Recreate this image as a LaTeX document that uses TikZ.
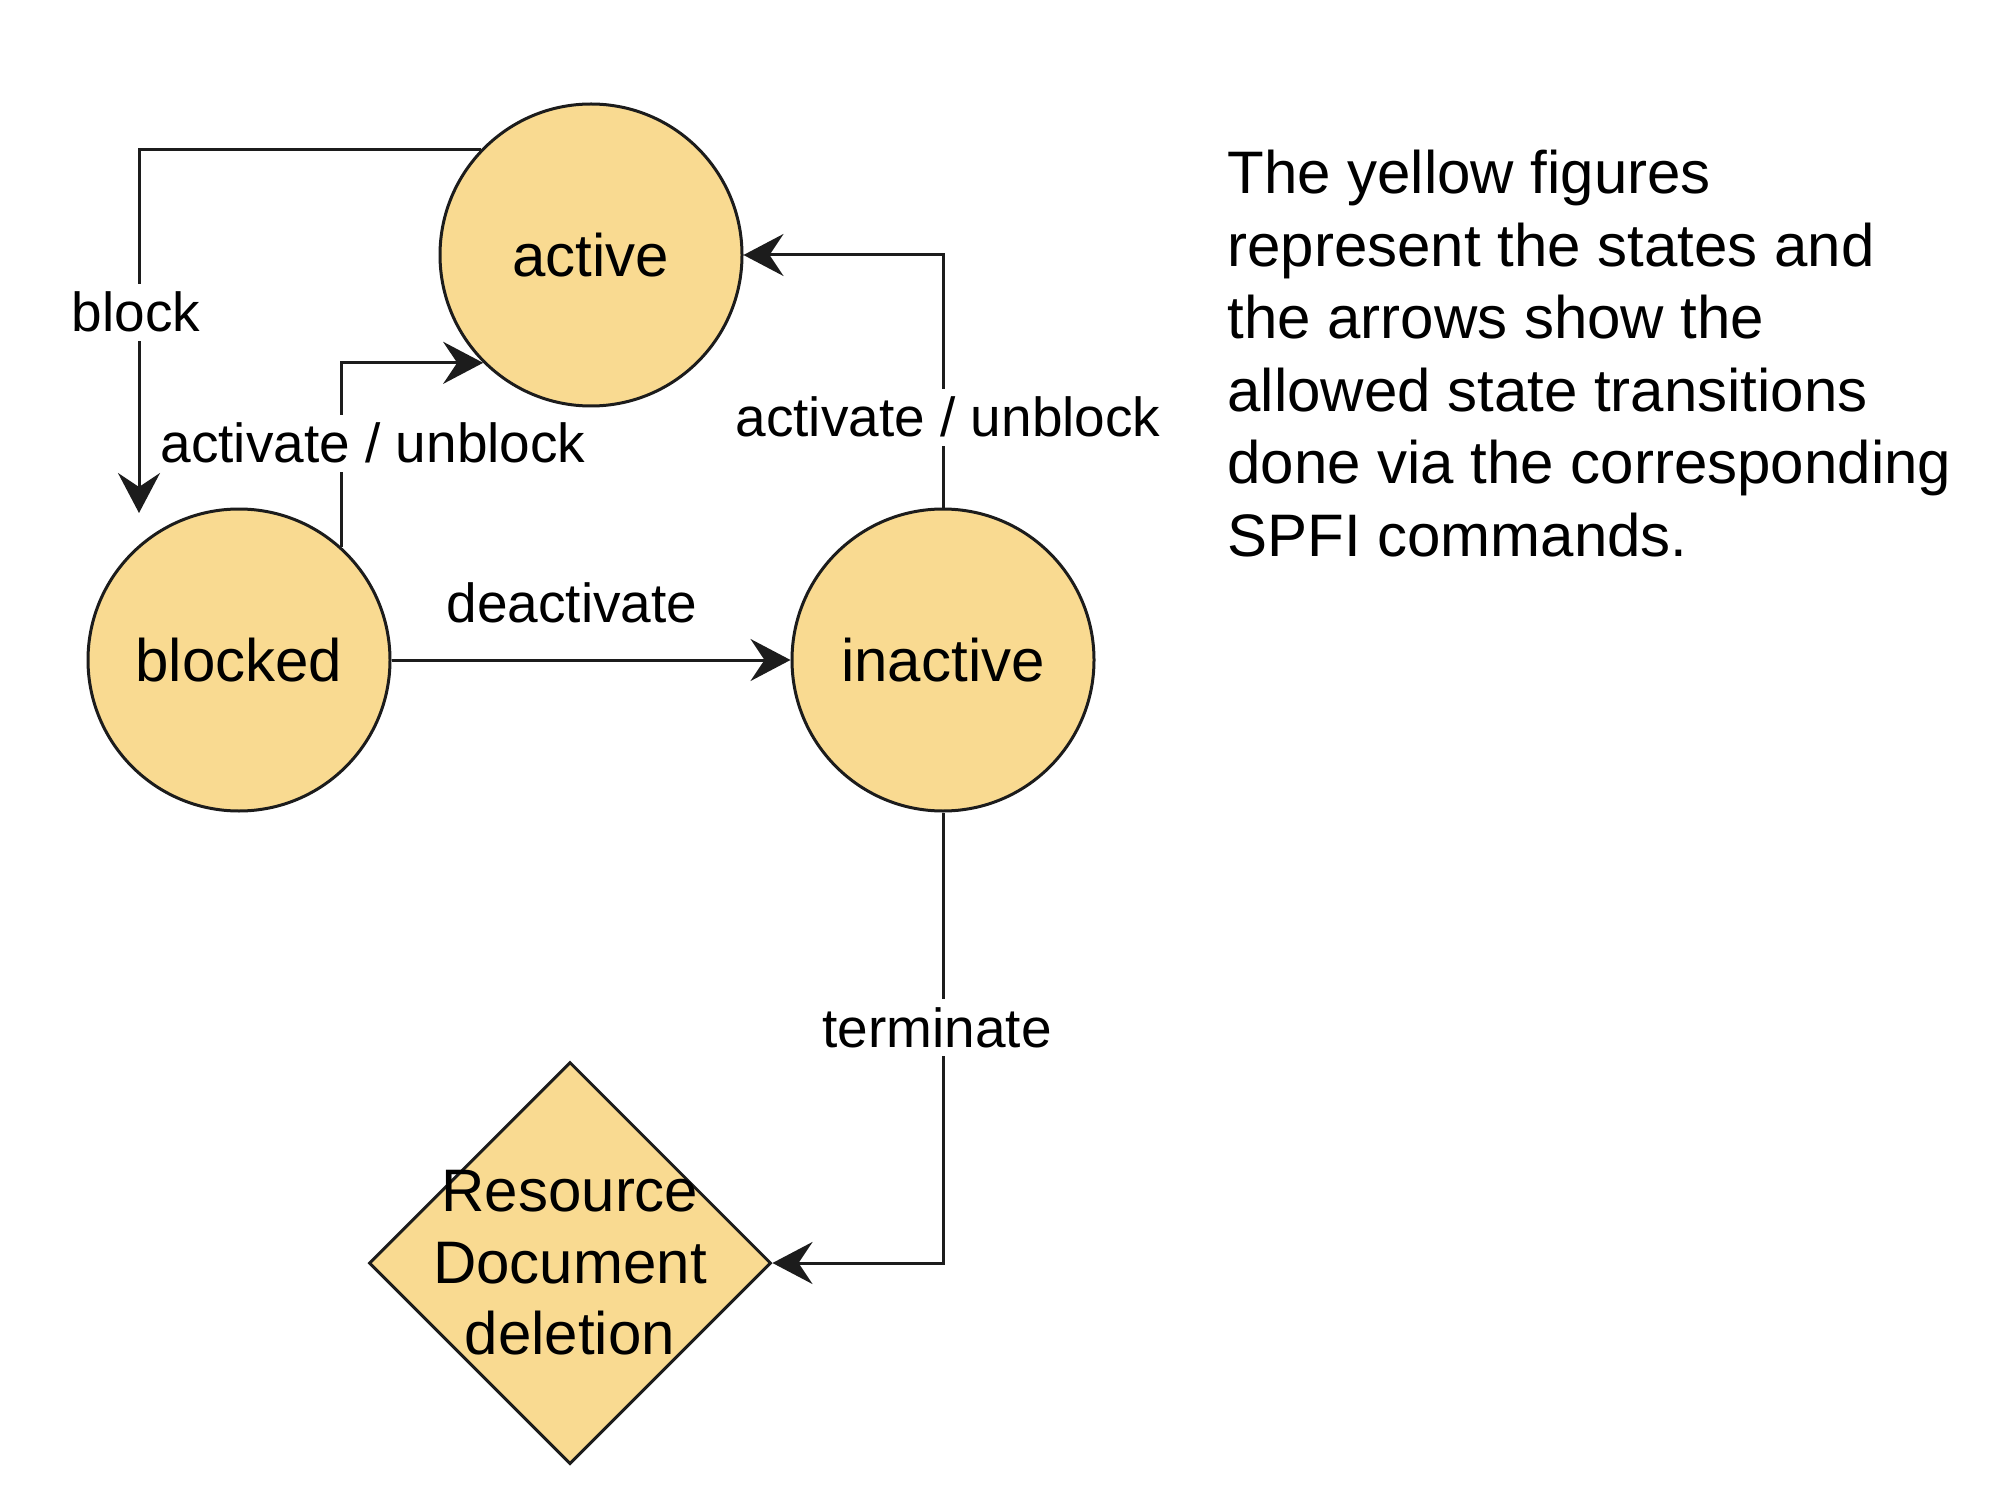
\documentclass[tikz,border=0pt]{standalone}
\usepackage{fontspec}
\setmainfont{Liberation Sans}
\usetikzlibrary{arrows.meta,shapes.geometric}
\definecolor{stateFill}{RGB}{249,218,145}
\definecolor{lineCol}{RGB}{28,28,28}
\begin{document}
\begin{tikzpicture}[x=0.5pt,y=-0.5pt,
  state/.style={circle,draw=lineCol,line width=1.5pt,fill=stateFill,minimum size=151pt,inner sep=0pt,font=\fontsize{30pt}{36pt}\selectfont},
  endstate/.style={diamond,draw=lineCol,line width=1.5pt,fill=stateFill,minimum width=201pt,minimum height=201pt,inner sep=-45pt,align=center,font=\fontsize{30pt}{35.75pt}\selectfont},
  conn/.style={draw=lineCol,line width=1.5pt,-{Stealth[length=20pt,width=21pt,inset=7pt]}},
  lbl/.style={fill=white,inner sep=4pt,anchor=base,font=\fontsize{27.5pt}{33pt}\selectfont},
  note/.style={anchor=north west,align=left,inner sep=0pt,font=\fontsize{30pt}{36.25pt}\selectfont}
]
\useasboundingbox[fill=white] (0,0) rectangle (2000,1486);

\node[state] (active) at (591,255) {active};
\node[state] (blocked) at (239,660) {blocked};
\node[state] (inactive) at (943,660) {inactive};
\node[endstate] (deletion) at (570,1263) {Resource\\Document\\deletion};

\coordinate (blockEnd) at (139,513);

\draw[conn] (active.136) -| (blockEnd)
  node[lbl] (lblock) at (136,332) {block};
\draw[conn] (blocked.48) |- (active.225)
  node[lbl] (lactA) at (373,463) {activate / unblock};
\draw[conn] (blocked.east) -- (inactive.west)
  node[lbl,fill=none] (ldeact) at (572,622) {deactivate};
\draw[conn] (inactive.north) |- (active.east)
  node[lbl] (lactB) at (948,437) {activate / unblock};
\draw[conn] (inactive.south) |- (deletion.east)
  node[lbl] (lterm) at (937,1047) {terminate};

\node[note] (notetext) at (1227,150) {The yellow figures\\represent the states and\\the arrows show the\\allowed state transitions\\done via the corresponding\\SPFI commands.};
\end{tikzpicture}
\end{document}
